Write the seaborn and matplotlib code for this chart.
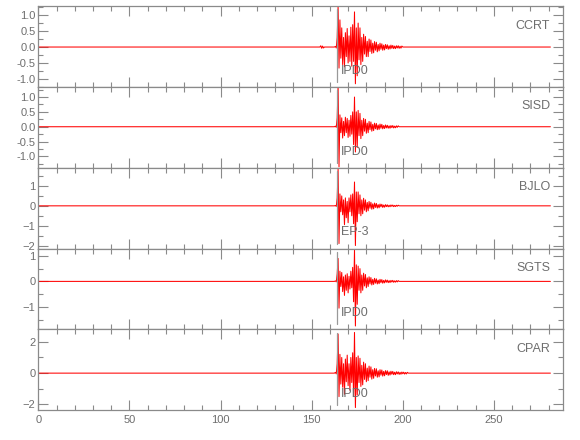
import numpy as np
import pandas as pd
import matplotlib
matplotlib.use("Agg")
import matplotlib.pyplot as plt
from matplotlib.ticker import MultipleLocator, FormatStrFormatter
import seaborn as sns

# ---------------- data ----------------
stations = ["CCRT", "SISD", "BJLO", "SGTS", "CPAR"]
pick_labels = ["IPD0", "IPD0", "EP-3", "IPD0", "IPD0"]
pick_time = 164.1
t_start = 163.0      # first sample of the event window
t_step = 0.5         # sample spacing of the listed peaks
t_end = 281.0

ccrt = [0.02, -0.03, 0.3, 1.3, -0.66, 0.85, -0.35, 0.6, -0.55, 0.3,
        -0.62, 0.45, -0.3, 0.58, -0.5, 0.35, -0.45, 0.62, -0.6, 0.7,
        -0.45, 1.1, -1.15, 0.6, -0.9, 0.75, -0.4, 0.6, -0.55, 0.3,
        -0.45, 0.4, -0.22, 0.33, -0.3, 0.18, -0.3, 0.25, -0.14, 0.22,
        -0.2, 0.12, -0.18, 0.17, -0.1, 0.15, -0.15, 0.08, -0.12, 0.12,
        -0.07, 0.1, -0.1, 0.06, -0.09, 0.08, -0.05, 0.07, -0.07, 0.04,
        -0.06, 0.06, -0.04, 0.05, -0.05, 0.03, -0.05, 0.04, -0.03, 0.04,
        -0.04, 0.025, -0.035, 0.03]
sisd = [0.02, -0.02, 0.3, 1.4, -1.35, 0.4, -0.2, 0.3, -0.38, 0.18,
        -0.3, 0.32, -0.2, 0.28, -0.36, 0.22, -0.32, 0.38, -0.25, 0.5,
        -0.6, 1.0, -0.85, 0.5, -0.7, 0.55, -0.3, 0.45, -0.4, 0.22,
        -0.3, 0.28, -0.15, 0.25, -0.22, 0.12, -0.2, 0.18, -0.1, 0.16,
        -0.15, 0.08, -0.13, 0.12, -0.07, 0.11, -0.1, 0.06, -0.09, 0.09,
        -0.05, 0.08, -0.07, 0.04, -0.06, 0.06, -0.04, 0.05, -0.05, 0.03,
        -0.05, 0.04, -0.03, 0.04, -0.04, 0.02, -0.035, 0.03, -0.02, 0.03]
bjlo = [0.02, -0.03, 0.4, 1.85, -1.9, 0.6, -0.3, 0.5, -0.45, 0.3,
        -0.95, 0.4, -0.6, 0.22, -0.85, 0.4, -0.3, 0.55, -0.5, 0.6,
        -0.9, 1.2, -2.0, 0.7, -0.8, 0.7, -0.4, 0.55, -0.5, 0.3,
        -0.4, 0.38, -0.22, 0.3, -0.3, 0.17, -0.25, 0.22, -0.12, 0.18,
        -0.17, 0.1, -0.15, 0.14, -0.08, 0.12, -0.11, 0.06, -0.1, 0.09,
        -0.05, 0.08, -0.08, 0.04, -0.07, 0.06, -0.04, 0.05, -0.05, 0.03,
        -0.045, 0.045, -0.025, 0.04, -0.04, 0.02, -0.035, 0.03, -0.02, 0.03]
sgts = [0.02, -0.02, 0.3, 0.9, -1.05, 0.4, -0.2, 0.35, -0.4, 0.18,
        -0.55, 0.25, -0.35, 0.3, -0.45, 0.2, -0.3, 0.4, -0.25, 0.55,
        -0.8, 1.25, -1.75, 0.65, -0.9, 0.6, -0.35, 0.5, -0.45, 0.25,
        -0.35, 0.32, -0.18, 0.27, -0.25, 0.14, -0.2, 0.18, -0.1, 0.15,
        -0.14, 0.08, -0.12, 0.12, -0.07, 0.1, -0.1, 0.05, -0.09, 0.08,
        -0.05, 0.07, -0.07, 0.04, -0.06, 0.06, -0.035, 0.05, -0.05, 0.03,
        -0.045, 0.04, -0.025, 0.04, -0.035, 0.02, -0.03, 0.03, -0.02, 0.03]
cpar = [0.05, -0.05, 0.6, 2.5, -1.5, 1.2, -0.7, 1.0, -0.9, 0.6,
        -1.35, 0.9, -0.55, 1.15, -0.8, 0.6, -1.1, 1.0, -0.6, 1.3,
        -1.5, 2.6, -2.2, 1.0, -1.4, 1.1, -0.6, 0.95, -0.85, 0.5,
        -0.75, 0.7, -0.4, 0.6, -0.55, 0.32, -0.48, 0.45, -0.26, 0.4,
        -0.38, 0.22, -0.33, 0.3, -0.18, 0.28, -0.26, 0.15, -0.24, 0.22,
        -0.13, 0.2, -0.19, 0.11, -0.17, 0.16, -0.09, 0.15, -0.14, 0.08,
        -0.12, 0.12, -0.07, 0.11, -0.1, 0.06, -0.1, 0.09, -0.05, 0.08,
        -0.08, 0.05, -0.07, 0.07, -0.04, 0.06, -0.06, 0.04, -0.05, 0.05]
# small pre-event wiggle on CCRT
ccrt_pre_t = [154.5, 155.0, 155.5, 156.0, 156.5, 157.0]
ccrt_pre_v = [0.0, 0.04, -0.04, 0.03, -0.03, 0.0]

traces = [ccrt, sisd, bjlo, sgts, cpar]
ylims = [(-1.25, 1.28), (-1.38, 1.34), (-2.15, 1.92), (-1.88, 1.29), (-2.36, 2.8)]
y_major = [0.5, 0.5, 1.0, 1.0, 2.0]
y_minor = [0.25, 0.25, 0.5, 0.5, 1.0]
x_ticks = [0, 50, 100, 150, 200, 250]

# ---------------- figure ----------------
sns.set_theme(style="white")
plt.rcParams["font.family"] = ["Liberation Sans", "DejaVu Sans"]
gray = "#8a8a8a"
txt = "#6e6e6e"

fig, axes = plt.subplots(5, 1, figsize=(5.8, 4.4), dpi=100, sharex=True)
fig.subplots_adjust(left=0.066, right=0.971, top=0.986, bottom=0.068, hspace=0)

for i, ax in enumerate(axes):
    vals = traces[i]
    t_evt = t_start + t_step * np.arange(len(vals))
    pre_t = [0.0] + (ccrt_pre_t if i == 0 else []) + [162.5]
    pre_v = [0.0] + (ccrt_pre_v if i == 0 else []) + [0.0]
    t_all = np.concatenate([pre_t, t_evt, [t_evt[-1] + t_step, t_end]])
    v_all = np.concatenate([pre_v, vals, [0.0, 0.0]])
    df = pd.DataFrame({"time": t_all, "amp": v_all})
    sns.lineplot(data=df, x="time", y="amp", ax=ax, color="red", lw=0.75,
                 estimator=None, sort=False)
    ax.axvline(pick_time, ymin=0.06, ymax=0.96, color="#999999", lw=0.9)
    ax.text(pick_time + 2.0, 0.2, pick_labels[i], transform=ax.get_xaxis_transform(),
            ha="left", va="center", fontsize=9, color=txt)
    ax.text(0.975, 0.76, stations[i], transform=ax.transAxes, ha="right",
            va="center", fontsize=9, color=txt)
    ax.set_ylim(*ylims[i])
    ax.set_xlim(0, 288)
    ax.yaxis.set_major_locator(MultipleLocator(y_major[i]))
    ax.yaxis.set_minor_locator(MultipleLocator(y_minor[i]))
    ax.set_xticks(x_ticks)
    ax.xaxis.set_minor_locator(MultipleLocator(10))
    if i in (0, 1):
        ax.yaxis.set_major_formatter(FormatStrFormatter("%.1f"))
    ax.set_xlabel("")
    ax.set_ylabel("")
    for s in ax.spines.values():
        s.set_color(gray)
        s.set_linewidth(0.9)
    ax.tick_params(axis="both", which="both", direction="in", top=True,
                   right=True, left=True, bottom=True, color=gray,
                   labelcolor=txt, labelsize=8, width=0.8)
    ax.tick_params(which="major", length=7)
    ax.tick_params(which="minor", length=3.5)
    ax.tick_params(axis="y", which="major", pad=2)
    if i < 4:
        ax.tick_params(axis="x", labelbottom=False)

fig.savefig("out.png", dpi=100)
